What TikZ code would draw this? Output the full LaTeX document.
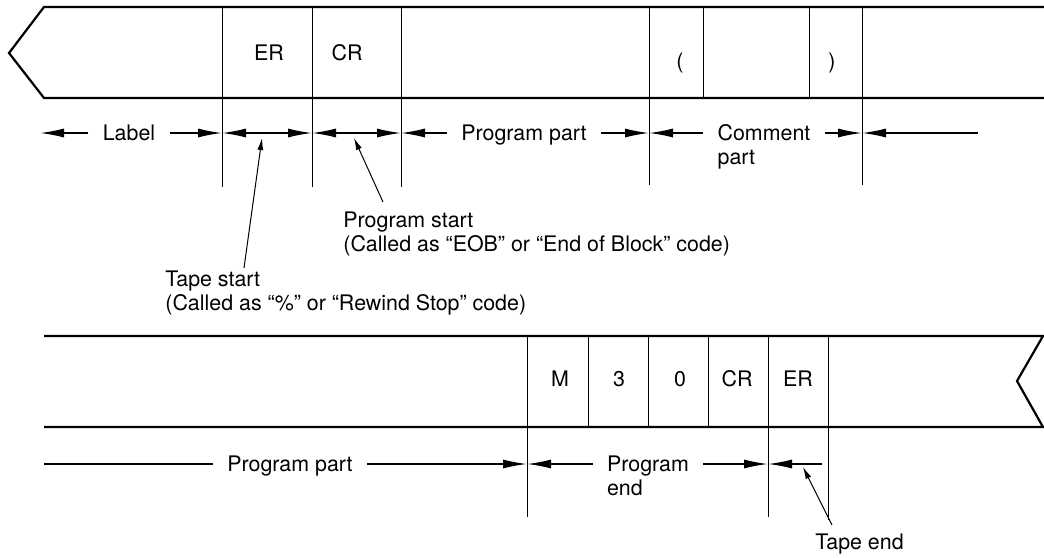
\documentclass[tikz,border=0pt]{standalone}
\usepackage{fontspec}
\setmainfont{TeX Gyre Heros}
\usetikzlibrary{positioning, arrows.meta}

\begin{document}
\begin{tikzpicture}[
  x=0.5pt, y=-0.5pt,
  every node/.style={font=\fontsize{10.7}{12}\selectfont, inner sep=0pt},
  tape/.style={line width=1.1pt, line join=miter},
  cell/.style={line width=0.5pt},
  dimlbl/.style={inner xsep=7pt, inner ysep=0pt, text height=7.7pt, text depth=0pt},
  dimline/.style={line width=0.75pt},
  dimarr/.style={-{Latex[length=12pt,width=4.5pt]}, line width=0.75pt},
  dimboth/.style={{Latex[length=12pt,width=4.5pt]}-{Latex[length=12pt,width=4.5pt]},
    line width=0.75pt},
  callout/.style={-{Latex[length=6pt,width=3pt]}, line width=0.5pt}
]
  \useasboundingbox (0,0) rectangle (1044,557);

  % Upper tape
  \draw[tape] (1044,7) -- (44,7) -- (9,53) -- (44,98) -- (1044,98);
  \foreach \x in {222,312,401,649,703,809,862}
    \draw[cell] (\x,7) -- (\x,98);
  \foreach \x/\e in {222/187,312/187,401/187,649/185,862/185}
    \draw[cell] (\x,98) -- (\x,\e);

  % Upper codes
  \node (er1) at (269,53) {ER};
  \node (cr1) at (347,53) {CR};
  \node (lpar) at (680,63) {(};
  \node (rpar) at (832,63) {)};

  % Upper parts
  \coordinate (a0) at (40,133);
  \coordinate (a1) at (222,133);
  \coordinate (a2) at (312,133);
  \coordinate (a3) at (401,133);
  \coordinate (a4) at (649,133);
  \coordinate (a5) at (862,133);
  \coordinate (a6) at (978,133);
  \node[dimlbl] (lbl) at (129,133) {Label};
  \draw[dimarr] (lbl.west) -- (a0);
  \draw[dimarr] (lbl.east) -- (a1);
  \draw[dimboth] (a1) -- (a2);
  \draw[dimboth] (a2) -- (a3);
  \node[dimlbl] (prg1) at (524,133) {Program part};
  \draw[dimarr] (prg1.west) -- (a3);
  \draw[dimarr] (prg1.east) -- (a4);
  \node[dimlbl] (cmt) at (764,133) {Comment};
  \node[dimlbl, anchor=base west] (cmtp) at ([yshift=-12pt]cmt.base west) {part};
  \draw[dimarr] (cmt.west) -- (a4);
  \draw[dimarr] (cmt.east) -- (a5);
  \draw[dimarr] (a6) -- (a5);

  % Start notes
  \node[anchor=north west, align=left] (pstart) at (343,211)
    {Program start\\(Called as “EOB” or “End of Block” code)};
  \coordinate (pstip) at (354,138);
  \draw[callout] ([xshift=20pt, yshift=4.5pt]pstart.north west) -- (pstip);
  \node[anchor=north west, align=left] (tstart) at (165,270)
    {Tape start\\(Called as “\%” or “Rewind Stop” code)};
  \coordinate (tstip) at (262,138);
  \draw[callout] ([xshift=39.5pt, yshift=1pt]tstart.north west) -- (tstip);

  % Lower tape
  \draw[tape] (44,336) -- (1043,336) -- (1017,381) -- (1043,427) -- (44,427);
  \foreach \x in {527,588,648,708,768,828}
    \draw[cell] (\x,336) -- (\x,427);
  \foreach \x/\e in {527/517,768/517,828/520}
    \draw[cell] (\x,427) -- (\x,\e);

  % Lower codes
  \node (m) at (560,379) {M};
  \node (three) at (619,379) {3};
  \node (zero) at (680,379) {0};
  \node (cr2) at (737,379) {CR};
  \node (er2) at (798,379) {ER};

  % Lower parts
  \coordinate (b0) at (44,464);
  \coordinate (b1) at (527,464);
  \coordinate (b2) at (768,464);
  \coordinate (b3) at (822,464);
  \node[dimlbl] (prg2) at (290,464) {Program part};
  \draw[dimline] (b0) -- (prg2.west);
  \draw[dimarr] (prg2.east) -- (b1);
  \node[dimlbl] (pend) at (648,464) {Program};
  \node[dimlbl, anchor=base west] (pendp) at ([yshift=-12pt]pend.base west) {end};
  \draw[dimarr] (pend.west) -- (b1);
  \draw[dimarr] (pend.east) -- (b2);
  \draw[dimarr] (b3) -- (b2);

  % End note
  \node[anchor=north west] (tend) at (815,533) {Tape end};
  \coordinate (tetip) at (803,467);
  \draw[callout] ([xshift=8.5pt, yshift=4pt]tend.north west) -- (tetip);
\end{tikzpicture}
\end{document}
